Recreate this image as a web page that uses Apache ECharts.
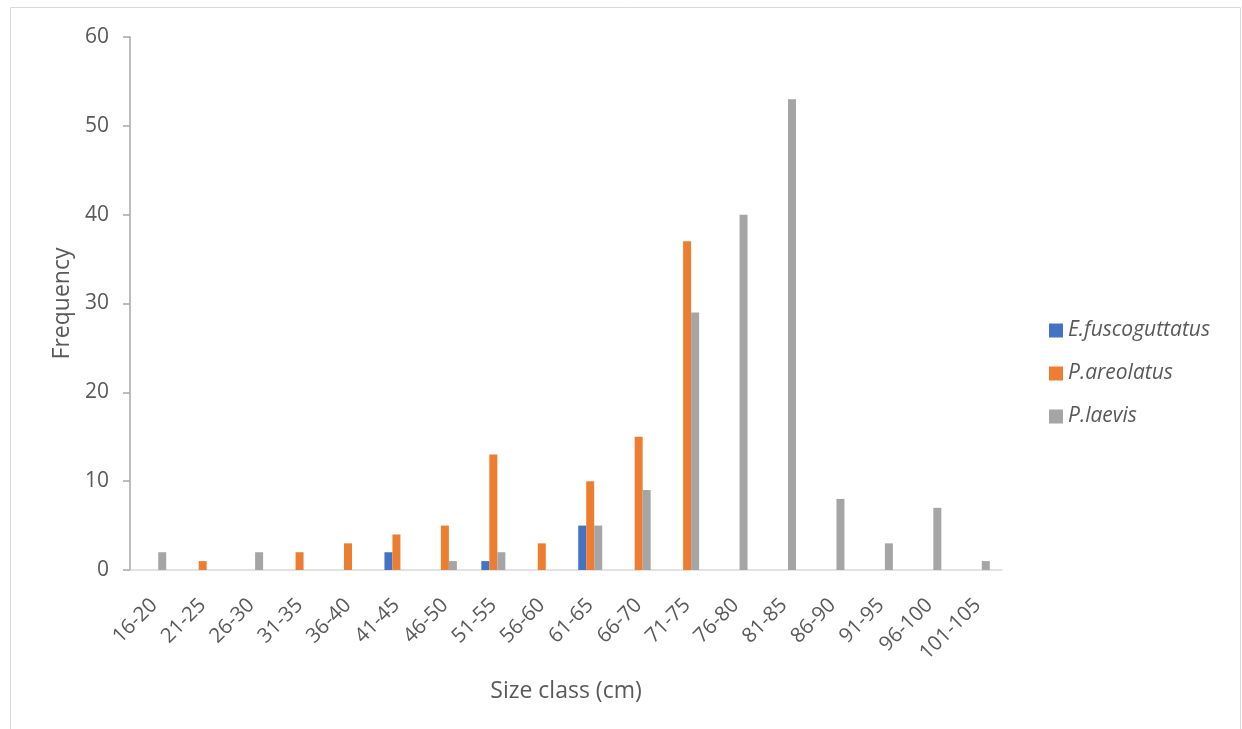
<!DOCTYPE html>
<html><head><meta charset="utf-8">
<script src="https://cdn.jsdelivr.net/npm/echarts@6/dist/echarts.min.js"></script>
<style>html,body{margin:0;padding:0;background:#fff}#c{width:1242px;height:729px}</style>
</head><body><div id="c"></div>
<script>
const categories = ['16-20','21-25','26-30','31-35','36-40','41-45','46-50','51-55','56-60','61-65','66-70','71-75','76-80','81-85','86-90','91-95','96-100','101-105'];
const eFuscoguttatus = [0,0,0,0,0,2,0,1,0,5,0,0,0,0,0,0,0,0];
const pAreolatus     = [0,1,0,2,3,4,5,13,3,10,15,37,0,0,0,0,0,0];
const pLaevis        = [2,0,2,0,0,0,1,2,0,5,9,29,40,53,8,3,7,1];
const yTicks = [0,10,20,30,40,50,60];

const font = '"Open Sans", "Liberation Sans", sans-serif';
const txt = '#595959';
const chart = echarts.init(document.getElementById('c'), null, {renderer:'canvas'});
function s(name, data, color){
  return {name, type:'bar', data, barWidth:8, barGap:'0%', itemStyle:{color}};
}
chart.setOption({
  animation:false,
  backgroundColor:'#fff',
  graphic:[{type:'rect', shape:{x:10.5,y:7.5,width:1230,height:740}, style:{fill:'none', stroke:'#D9D9D9', lineWidth:1}, silent:true}],
  grid:{left:130, top:37, right:240, bottom:159, containLabel:false},
  legend:{
    orient:'vertical', left:1044, top:315, itemGap:22, itemWidth:14, itemHeight:14,
    icon:'rect',
    textStyle:{fontFamily:font, fontSize:21, color:txt, fontStyle:'italic'},
    data:['E.fuscoguttatus','P.areolatus','P.laevis']
  },
  xAxis:{
    type:'category', data:categories,
    name:'Size class (cm)', nameLocation:'middle', nameGap:110,
    nameTextStyle:{fontFamily:font, fontSize:23, color:txt},
    axisLine:{lineStyle:{color:'#D9D9D9', width:1.5}},
    axisTick:{show:false},
    axisLabel:{rotate:45, interval:0, fontFamily:font, fontSize:20.5, color:txt, margin:32}
  },
  yAxis:{
    type:'value', min:yTicks[0], max:yTicks[yTicks.length-1], interval:10,
    name:'Frequency', nameLocation:'middle', nameGap:56,
    nameTextStyle:{fontFamily:font, fontSize:23, color:txt},
    axisLine:{show:true, lineStyle:{color:'#A6A6A6', width:1.5}},
    axisTick:{show:true, length:7, lineStyle:{color:'#A6A6A6', width:1.5}},
    splitLine:{show:false},
    axisLabel:{fontFamily:font, fontSize:21, color:txt, margin:21}
  },
  series:[
    s('E.fuscoguttatus', eFuscoguttatus, '#4472C4'),
    s('P.areolatus', pAreolatus, '#ED7D31'),
    s('P.laevis', pLaevis, '#A5A5A5')
  ]
});
</script></body></html>
